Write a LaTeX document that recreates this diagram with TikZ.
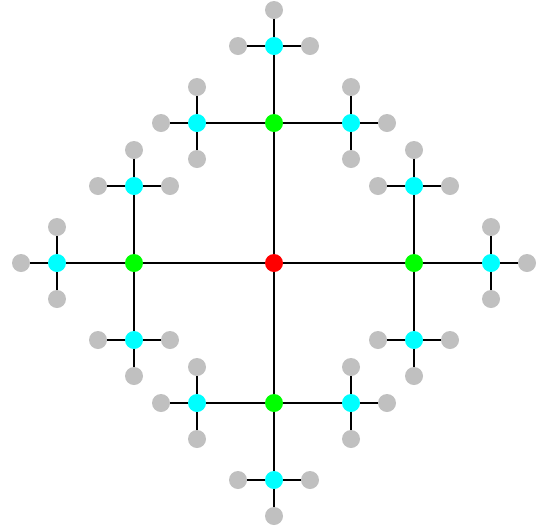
\documentclass[tikz,border=0pt]{standalone}
\usepackage{tikz}
\usetikzlibrary{calc, positioning}

\definecolor{rootred}{RGB}{255,0,0}
\definecolor{levelgreen}{RGB}{0,255,0}
\definecolor{levelcyan}{RGB}{0,255,255}
\definecolor{leafgray}{RGB}{192,192,192}

\begin{document}
\begin{tikzpicture}[
    x=0.02cm, y=-0.02cm,
    every node/.style={
            circle,
            inner sep=0pt,
            minimum size=0.36cm
        },
    edge/.style={draw=black, line width=1.1pt},
    root_dot/.style={fill=rootred},
    green_dot/.style={fill=levelgreen},
    cyan_dot/.style={fill=levelcyan},
    leaf_dot/.style={fill=leafgray},
    ]
    \useasboundingbox (0,0) rectangle (547,529);

    % --- Root ---
    \node (root) [root_dot] at (274,263) {};

    % --- Three levels, each child away from its parent ---
    \foreach \a in {0,90,180,270} {
        \node (g-\a) [green_dot] at ($(root)+(\a:140)$) {};
        \draw[edge] (root) -- (g-\a);
        \foreach \d in {-90,0,90} {
            \node (c-\a-\d) [cyan_dot] at ($(g-\a)+({\a+\d}:77)$) {};
            \draw[edge] (g-\a) -- (c-\a-\d);
            \foreach \e in {-90,0,90} {
                \node (l-\a-\d-\e) [leaf_dot] at ($(c-\a-\d)+({\a+\d+\e}:36)$) {};
                \draw[edge] (c-\a-\d) -- (l-\a-\d-\e);
            }
        }
    }

\end{tikzpicture}
\end{document}
